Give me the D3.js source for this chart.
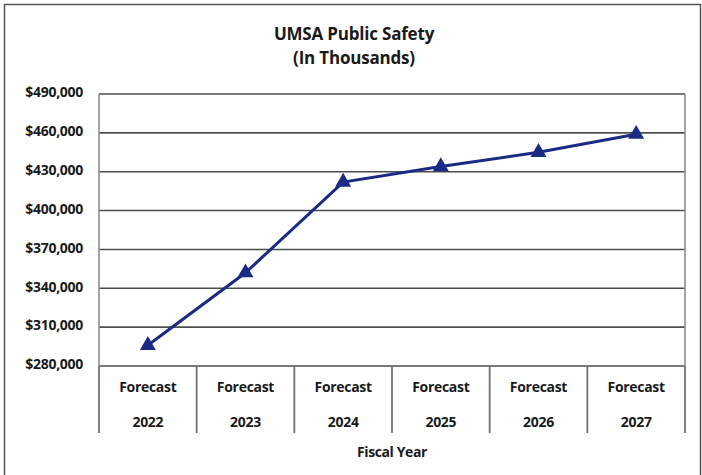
<!DOCTYPE html>
<html>
<head>
<meta charset="utf-8">
<script src="https://cdn.jsdelivr.net/npm/d3@7"></script>
<style>
	body { margin: 0; background: #fff; }
	svg text { font-family: "Open Sans", sans-serif; font-weight: bold; fill: #1a1a1a; }
</style>
</head>
<body>
<div id="chart"></div>
<script>
// values (thousands of dollars)
const years = ["2022", "2023", "2024", "2025", "2026", "2027"]
const spending = [296000, 352000, 422000, 434000, 445000, 459000]
const yTicks = [280000, 310000, 340000, 370000, 400000, 430000, 460000, 490000]

const W = 702, H = 475
const plot = { left: 99, right: 685, top: 94, bottom: 366 }

const svg = d3.select("#chart").append("svg").attr("width", W).attr("height", H)

// outer frame
svg.append("path")
	.attr("d", `M4.5,${H + 2} V4.5 H700.5 V${H + 2}`)
	.attr("fill", "none").attr("stroke", "#555").attr("stroke-width", 1.5)

svg.append("text").attr("x", 354).attr("y", 40).attr("text-anchor", "middle")
	.style("font-size", "17px").style("letter-spacing", "-0.2px").text("UMSA Public Safety")
svg.append("text").attr("x", 354).attr("y", 64).attr("text-anchor", "middle")
	.style("font-size", "17px").style("letter-spacing", "-0.2px").text("(In Thousands)")

const xs = d3.scaleBand().domain(years).range([plot.left, plot.right])
const ys = d3.scaleLinear().domain([280000, 490000]).range([plot.bottom, plot.top])

// horizontal gridlines
svg.append("g").selectAll("line").data(yTicks).join("line")
	.attr("x1", plot.left).attr("x2", plot.right)
	.attr("y1", d => ys(d)).attr("y2", d => ys(d))
	.attr("stroke", "#4a4f4e").attr("stroke-width", 1.6)

// plot side borders
svg.append("g").selectAll("line").data([plot.left, plot.right]).join("line")
	.attr("x1", d => d).attr("x2", d => d).attr("y1", plot.top).attr("y2", plot.bottom)
	.attr("stroke", "#8a908f").attr("stroke-width", 1.6)

// y axis labels
const yAxis = svg.append("g").attr("transform", `translate(${plot.left},0)`)
	.call(d3.axisLeft(ys).tickValues(yTicks).tickSize(0).tickPadding(16)
		.tickFormat(d => "$" + d3.format(",")(d)))
yAxis.select(".domain").remove()
yAxis.selectAll("text").style("font-size", "14px").style("letter-spacing", "-0.3px")
	.attr("dy", "0.2em").attr("fill", "#1a1a1a")

// category table under the plot
const dividers = years.map(d => xs(d)).concat([plot.right])
svg.append("g").selectAll("line").data(dividers).join("line")
	.attr("x1", d => d).attr("x2", d => d).attr("y1", plot.bottom).attr("y2", 433)
	.attr("stroke", "#6f7574").attr("stroke-width", 1.8)

const cats = svg.append("g").selectAll("g").data(years).join("g")
	.attr("transform", d => `translate(${xs(d) + xs.bandwidth() / 2},0)`)
cats.append("text").attr("y", 392).attr("text-anchor", "middle")
	.style("font-size", "14px").style("letter-spacing", "-0.3px").text("Forecast")
cats.append("text").attr("y", 427).attr("text-anchor", "middle")
	.style("font-size", "14px").style("letter-spacing", "-0.3px").text(d => d)

svg.append("text").attr("x", 392).attr("y", 457).attr("text-anchor", "middle")
	.style("font-size", "14px").style("letter-spacing", "-0.4px").text("Fiscal Year")

// the line and its triangle markers
const pts = years.map((y, i) => ({ year: y, value: spending[i] }))
svg.append("path").datum(pts)
	.attr("fill", "none").attr("stroke", "#1b2a84").attr("stroke-width", 3)
	.attr("d", d3.line().x(d => xs(d.year) + xs.bandwidth() / 2).y(d => ys(d.value)))

svg.append("g").selectAll("path").data(pts).join("path")
	.attr("transform", d => `translate(${xs(d.year) + xs.bandwidth() / 2},${ys(d.value)})`)
	.attr("d", d3.symbol(d3.symbolTriangle, 110))
	.attr("fill", "#1b2a84")
</script>
</body>
</html>
